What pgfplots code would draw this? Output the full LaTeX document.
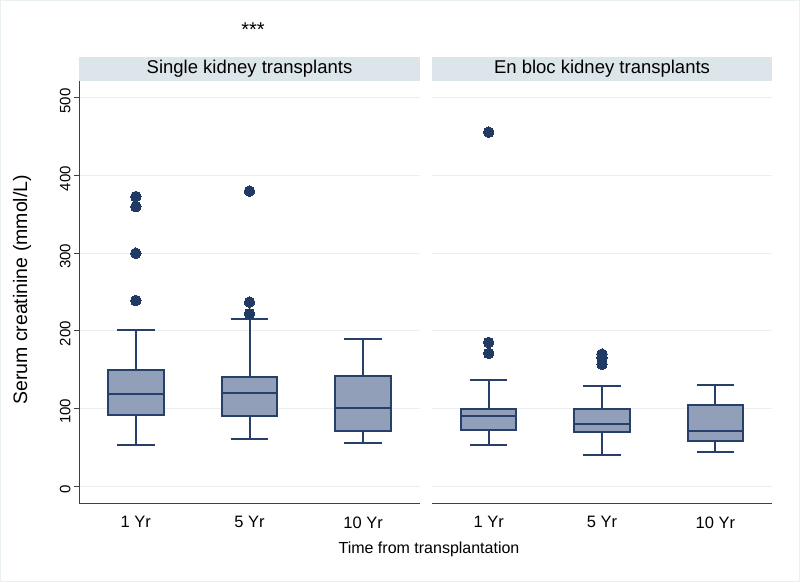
\documentclass[border=0pt]{standalone}
\usepackage{fontspec}
\setmainfont{Liberation Sans}
\usepackage{pgfplots}
\pgfplotsset{compat=1.18}
\usepgfplotslibrary{statistics}
\definecolor{boxfill}{RGB}{145,160,184}
\definecolor{boxline}{RGB}{38,64,107}
\definecolor{outl}{RGB}{33,58,100}
\definecolor{stripfill}{RGB}{220,229,234}
\definecolor{gridc}{RGB}{232,240,242}
\pgfplotsset{
  panel/.style={
    scale only axis, width=341pt, height=422pt,
    xmin=0.5, xmax=3.5, ymin=-21.9, ymax=521.9,
    xtick={1,2,3}, xticklabels={1 Yr,5 Yr,10 Yr},
    ytick={0,100,200,300,400,500},
    ymajorgrids, grid style={gridc, line width=1pt},
    axis x line*=bottom,
    axis line style={black!75, line width=1pt},
    xtick style={draw=none},
    tick align=outside,
    ytick style={black!75, line width=1pt},
    major tick length=5pt,
    /pgf/number format/assume math mode=true,
    xticklabel style={font=\fontsize{16.5}{18}\selectfont, yshift=-5pt},
    yticklabel style={font=\fontsize{15}{16}\selectfont, rotate=90, anchor=south, xshift=-3pt},
    clip=false,
    boxplot/draw direction=y,
  },
  bp/.style={draw=boxline, fill=boxfill, line width=2pt,
      mark=*, mark size=5.3pt, mark options={fill=outl, draw=outl, line width=0pt},
      boxplot/box extend=0.49, boxplot/whisker extend=0.33},
}
\begin{document}
\begin{tikzpicture}[x=1pt,y=1pt]
\useasboundingbox (0,0) rectangle (800,582);
\draw[gridc, line width=1pt] (0.5,0.5) rectangle (799.5,581.5);
% Left panel
\begin{axis}[panel, at={(79pt,79pt)}, anchor=south west,
  axis y line*=left,
  ylabel={Serum creatinine (mmol/L)},
  ylabel style={font=\fontsize{19.5}{22}\selectfont, at={(axis description cs:-0.167,0.505)}, anchor=center, rotate=0},
]
\fill[stripfill] (rel axis cs:0,1) rectangle ([yshift=24pt]rel axis cs:1,1);
\node[font=\fontsize{18.5}{20}\selectfont] at ([yshift=12pt]rel axis cs:0.5,1) {Single kidney transplants};
\addplot[bp, boxplot prepared={lower whisker=53, lower quartile=91.5, median=118, upper quartile=149, upper whisker=201, draw position=1}]
  table[row sep=\\, y index=0] {data\\ 373\\ 360\\ 300\\ 239\\};
\addplot[bp, boxplot prepared={lower whisker=60, lower quartile=90, median=120, upper quartile=141, upper whisker=215, draw position=2}]
  table[row sep=\\, y index=0] {data\\ 380\\ 237\\ 222\\};
\addplot[bp, boxplot prepared={lower whisker=56, lower quartile=71, median=101, upper quartile=142, upper whisker=189, draw position=3}]
  coordinates {};
\end{axis}
% Right panel
\begin{axis}[panel, at={(432pt,79pt)}, anchor=south west, width=340pt,
  axis y line*=left,
  y axis line style={draw=none}, ytick style={draw=none}, yticklabels={},
]
\fill[stripfill] (rel axis cs:0,1) rectangle ([yshift=24pt]rel axis cs:1,1);
\node[font=\fontsize{18.5}{20}\selectfont] at ([yshift=12pt]rel axis cs:0.5,1) {En bloc kidney transplants};
\addplot[bp, boxplot prepared={lower whisker=53, lower quartile=72, median=90, upper quartile=99, upper whisker=136, draw position=1}]
  table[row sep=\\, y index=0] {data\\ 456\\ 185\\ 171\\};
\addplot[bp, boxplot prepared={lower whisker=40, lower quartile=69, median=80, upper quartile=99, upper whisker=128.5, draw position=2}]
  table[row sep=\\, y index=0] {data\\ 170\\ 165\\ 157\\};
\addplot[bp, boxplot prepared={lower whisker=44, lower quartile=58, median=71, upper quartile=105, upper whisker=130, draw position=3}]
  coordinates {};
\end{axis}
\node[font=\fontsize{20}{22}\selectfont] at (253,552) {***};
\node[font=\fontsize{16}{18}\selectfont] at (429,33) {Time from transplantation};
\end{tikzpicture}
\end{document}
